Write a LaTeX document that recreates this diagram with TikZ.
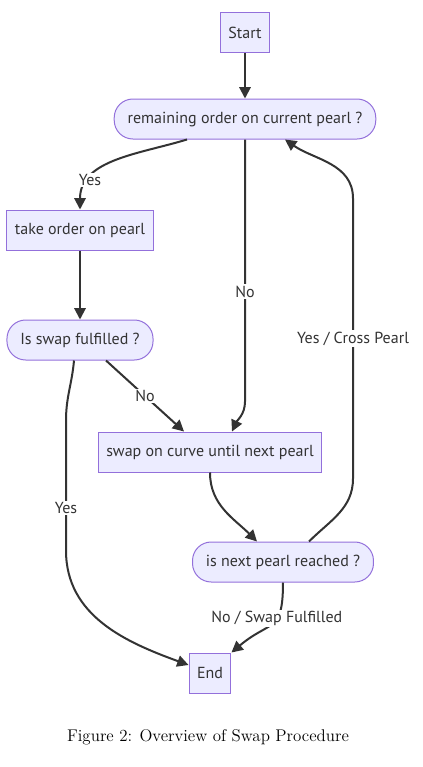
\documentclass[tikz,border=0pt]{standalone}
\usepackage{fontspec}
\usepackage{tikz}
\usetikzlibrary{shapes, arrows.meta, calc}
\newfontfamily\flowfont{PT Sans}
\definecolor{boxfill}{HTML}{ECECFF}
\definecolor{boxline}{HTML}{9370DB}
\definecolor{edgeline}{HTML}{333333}
\tikzstyle{line} = [draw=edgeline, line width=1.5pt, -{Triangle[length=8.5pt, width=8.5pt]}]
\tikzstyle{block}=[draw=boxline, fill=boxfill, rectangle, line width=0.75pt, minimum height=30pt, inner xsep=6pt, text=edgeline, font=\flowfont\fontsize{12}{14}\selectfont]
\tikzstyle{decision}=[block, rounded corners=14pt, inner xsep=10pt]
\tikzstyle{edgetext}=[fill=white, inner sep=1pt, text=edgeline, font=\flowfont\fontsize{12}{14}\selectfont]

\begin{document}
\begin{tikzpicture}[x=0.75pt, y=0.75pt]
		\useasboundingbox (0,0) rectangle (422,-767);
		\node[block] (start) at (245,-33) {Start};
		\node[decision] (rem) at (245,-119) {remaining order on current pearl ?};
		\node[block] (take) at (80,-230) {take order on pearl};
		\node[decision] (fulfilled) at (80,-340) {Is swap fulfilled ?};
		\node[block] (swap) at (210,-452) {swap on curve until next pearl};
		\node[decision] (reached) at (283,-562) {is next pearl reached ?};
		\node[block] (end) at (210,-673) {End};
		\node (caption) at (208,-737) {\fontsize{12.7}{15}\selectfont Figure 2: Overview of Swap Procedure};
		\draw[line] (start) -- (rem);
		\draw[line] ($(rem.south)+(-58,0)$) to[out=197, in=90] node[edgetext, pos=0.75]{Yes} (take.north);
		\draw[line] (rem.south) -- node[edgetext, pos=0.58]{No} ++(0,-262) to[out=-90, in=65] ($(swap.north)+(22,0)$);
		\draw[line] (take) -- (fulfilled);
		\draw[line] ($(fulfilled.south)+(26,0)$) -- node[edgetext]{No} ($(swap.north)+(-26,0)$);
		\draw[line] ($(fulfilled.south)+(-6,0)$) to[out=-95, in=90] ++(-8,-60) -- node[edgetext, pos=0.67]{Yes} ++(0,-130) to[out=-90, in=160] ($(end.west)+(0,8)$);
		\draw[line] (swap.south) to[out=-90, in=135] ($(reached.north)+(-26,0)$);
		\draw[line] ($(reached.north)+(26,0)$) to[out=45, in=-90] ++(44,63) -- node[edgetext]{Yes / Cross Pearl} ++(0,280) to[out=90, in=-35] ($(rem.south)+(40,0)$);
		\draw[line] (reached.south) to[out=-90, in=40, looseness=1.5] node[edgetext, pos=0.38]{No / Swap Fulfilled} (end.north east);
	\end{tikzpicture}
\end{document}
